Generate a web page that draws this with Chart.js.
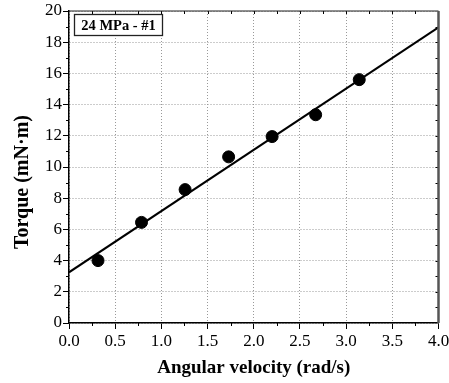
<!DOCTYPE html>
<html lang="en">
<head>
    <meta charset="UTF-8">
    <title>Torque vs angular velocity</title>
    <script src="https://cdn.jsdelivr.net/npm/chart.js"></script>
    <style>
        body { margin: 0; background: #fff; }
        #wrap { width: 449px; height: 383px; }
    </style>
</head>
<body>
    <div id="wrap">
        <canvas id="torqueChart" width="449" height="383"></canvas>
    </div>
    <script>
        // measured points
        const omega = [0.314, 0.785, 1.257, 1.728, 2.199, 2.670, 3.142];
        const torque = [4.0, 6.45, 8.55, 10.65, 11.95, 13.35, 15.6];

        // linear fit end points
        const fitX = [0, 4];
        const fitY = [3.25, 18.95];

        const xTicks = [0, 0.5, 1.0, 1.5, 2.0, 2.5, 3.0, 3.5, 4.0];
        const yTicks = [0, 2, 4, 6, 8, 10, 12, 14, 16, 18, 20];
        const sampleLabel = "24 MPa - #1";
        const yTitle = "Torque (mN·m)";

        const serif = "'Liberation Serif', 'Times New Roman', serif";

        // minor ticks + top/right frame + y title + sample label box
        const framePlugin = {
            id: "frame",
            afterDraw(chart) {
                const ctx = chart.ctx;
                const xs = chart.scales.x, ys = chart.scales.y;
                const a = chart.chartArea;
                ctx.save();

                // minor ticks
                ctx.strokeStyle = "#000";
                ctx.lineWidth = 1;
                ctx.beginPath();
                for (let v = 0.25; v < 4; v += 0.5) {
                    const px = Math.round(xs.getPixelForValue(v)) + 0.5;
                    ctx.moveTo(px, a.bottom); ctx.lineTo(px, a.bottom + 3);
                    ctx.moveTo(px, a.top); ctx.lineTo(px, a.top + 3);
                }
                for (let v = 0.5; v < 4; v += 0.5) {
                    const px = Math.round(xs.getPixelForValue(v)) + 0.5;
                    ctx.moveTo(px, a.top); ctx.lineTo(px, a.top + 3);
                }
                for (let v = 1; v < 20; v += 1) {
                    const py = Math.round(ys.getPixelForValue(v)) + 0.5;
                    if (v % 2 === 1) {
                        ctx.moveTo(a.left, py); ctx.lineTo(a.left - 3, py);
                    }
                    ctx.moveTo(a.right, py); ctx.lineTo(a.right - 3, py);
                }
                ctx.stroke();

                // top border
                ctx.strokeStyle = "#222";
                ctx.lineWidth = 1.2;
                ctx.beginPath();
                ctx.moveTo(a.left, a.top);
                ctx.lineTo(a.right, a.top);
                ctx.stroke();

                // right border
                ctx.strokeStyle = "#555";
                ctx.lineWidth = 2.5;
                ctx.beginPath();
                ctx.moveTo(a.right, a.top);
                ctx.lineTo(a.right, a.bottom);
                ctx.stroke();

                // y title, sits a bit below the axis centre in the original
                ctx.save();
                ctx.translate(22.5, 182);
                ctx.rotate(-Math.PI / 2);
                ctx.fillStyle = "#000";
                ctx.font = "bold 20px " + serif;
                ctx.textAlign = "center";
                ctx.textBaseline = "middle";
                ctx.fillText(yTitle, 0, 0);
                ctx.restore();

                // sample label
                const bx = a.left + 5.5, by = a.top + 3.5, bw = 88, bh = 21;
                ctx.fillStyle = "#fff";
                ctx.fillRect(bx, by, bw, bh);
                ctx.strokeStyle = "#222";
                ctx.lineWidth = 1.3;
                ctx.strokeRect(bx, by, bw, bh);
                ctx.fillStyle = "#000";
                ctx.font = "bold 14.5px " + serif;
                ctx.textAlign = "center";
                ctx.textBaseline = "middle";
                ctx.fillText(sampleLabel, bx + bw / 2, by + bh / 2 + 1);

                ctx.restore();
            }
        };

        new Chart(document.getElementById("torqueChart"), {
            type: "scatter",
            data: {
                datasets: [
                    {
                        label: "fit",
                        data: fitX.map((x, i) => ({ x: x, y: fitY[i] })),
                        showLine: true,
                        borderColor: "#000",
                        borderWidth: 2,
                        pointRadius: 0,
                        fill: false
                    },
                    {
                        label: sampleLabel,
                        data: omega.map((x, i) => ({ x: x, y: torque[i] })),
                        backgroundColor: "#000",
                        borderColor: "#000",
                        pointRadius: 6,
                        pointHoverRadius: 6
                    }
                ]
            },
            options: {
                responsive: false,
                animation: false,
                layout: { padding: { left: 0, right: 10.5, top: 11, bottom: 0 } },
                plugins: {
                    legend: { display: false },
                    tooltip: { enabled: false }
                },
                scales: {
                    x: {
                        type: "linear",
                        min: 0,
                        max: 4,
                        afterBuildTicks: s => { s.ticks = xTicks.map(v => ({ value: v })); },
                        afterFit: s => { s.height = 60; s.paddingLeft = 0; s.paddingRight = 0; },
                        ticks: {
                            callback: v => Number(v).toFixed(1),
                            color: "#000",
                            font: { family: serif, size: 17 },
                            padding: 2,
                            maxRotation: 0
                        },
                        grid: {
                            color: "#999",
                            tickColor: "#000",
                            tickLength: 6
                        },
                        border: { color: "#000", width: 1.5, dash: [1, 2] },
                        title: {
                            display: true,
                            text: "Angular velocity (rad/s)",
                            color: "#000",
                            font: { family: serif, size: 19, weight: "bold" },
                            padding: { top: 0, bottom: 4 }
                        }
                    },
                    y: {
                        min: 0,
                        max: 20,
                        afterBuildTicks: s => { s.ticks = yTicks.map(v => ({ value: v })); },
                        afterFit: s => { s.width = 69; s.paddingTop = 0; s.paddingBottom = 0; },
                        ticks: {
                            color: "#000",
                            font: { family: serif, size: 17 },
                            padding: 1
                        },
                        grid: {
                            color: "#999",
                            tickColor: "#000",
                            tickLength: 6
                        },
                        border: { color: "#000", width: 1.5, dash: [1, 2] },
                        title: { display: false }
                    }
                }
            },
            plugins: [framePlugin]
        });
    </script>
</body>
</html>
